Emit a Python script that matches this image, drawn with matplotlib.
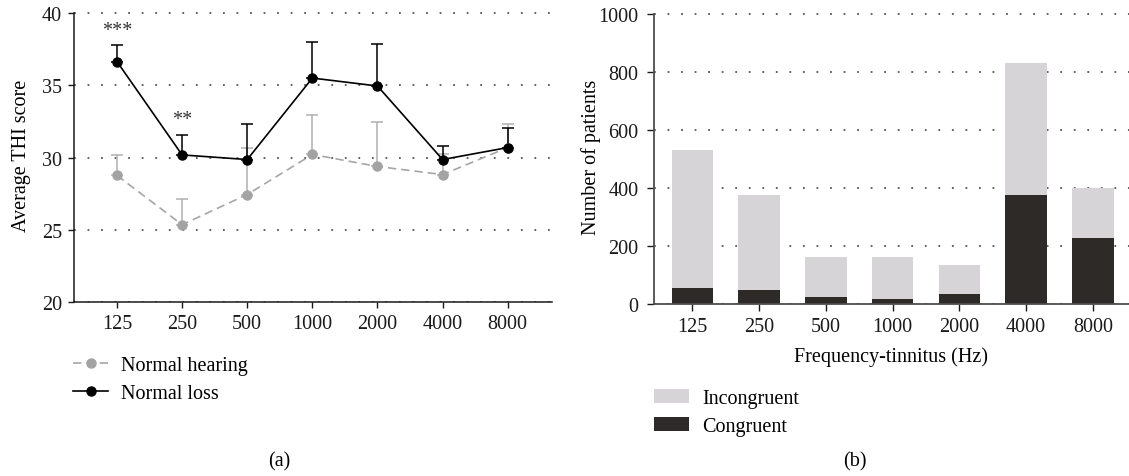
import numpy as np
import matplotlib
matplotlib.use("Agg")
import matplotlib.pyplot as plt

plt.rcParams["font.family"] = ["Liberation Serif", "DejaVu Serif"]

## データ
freqs = ["125", "250", "500", "1000", "2000", "4000", "8000"]

# (a) 平均THIスコア (上側のみのエラーバー)
hearing_mean = [28.76, 25.35, 27.44, 30.21, 29.38, 28.82, 30.69]
hearing_err = [1.40, 1.77, 3.21, 2.74, 3.11, 1.43, 1.61]
loss_mean = [36.64, 30.18, 29.86, 35.50, 34.95, 29.86, 30.69]
loss_err = [1.15, 1.41, 2.44, 2.50, 2.93, 0.97, 1.36]
stars = ["***", "**"]
star_y = [38.8, 32.65]

# (b) 患者数
congruent = [55, 48, 24, 17, 34, 375, 227]
incongruent = [475, 327, 138, 145, 100, 455, 173]

W, H = 1129, 477
fig = plt.figure(figsize=(W / 100, H / 100), dpi=100)

FS = 14.5
DOT = (0, (1, 6.5))
x = np.arange(len(freqs))

# ---- (a)
ax1 = fig.add_axes([74 / W, 1 - 303 / H, (552 - 74) / W, (303 - 9.7) / H])
# エラーバー（上側のみ）
ax1.errorbar(x, hearing_mean, yerr=[np.zeros(len(x)), hearing_err], fmt="none",
             ecolor="#b0b0b0", capsize=4, elinewidth=1.1, capthick=1.1, zorder=2)
ax1.errorbar(x, loss_mean, yerr=[np.zeros(len(x)), loss_err], fmt="none",
             ecolor="black", capsize=4, elinewidth=1.1, capthick=1.1, zorder=3)
# 折れ線
ax1.plot(x, hearing_mean, color="#a6a6a6", linestyle=(0, (5, 3)), lw=1.2,
         marker="o", ms=6.5, mfc="#a3a3a3", mec="#a3a3a3", zorder=3,
         label="Normal hearing")
ax1.plot(x, loss_mean, color="black", lw=1.2, marker="o", ms=6.5,
         mfc="black", mec="black", zorder=4, label="Normal loss")
for i, s in enumerate(stars):
    ax1.text(x[i], star_y[i], s, ha="center", va="center", fontsize=FS, color="#333333")

ax1.set_xlim(-0.66, 6.68)
ax1.set_ylim(20, 40.3)
ax1.set_yticks([20, 25, 30, 35, 40])
ax1.set_xticks(x)
ax1.set_xticklabels(freqs)
ax1.spines["left"].set_bounds(20, 40)
for s in ["top", "right"]:
    ax1.spines[s].set_visible(False)
for s in ["left", "bottom"]:
    ax1.spines[s].set_color("#1a1a1a")
    ax1.spines[s].set_linewidth(1.1)
ax1.set_axisbelow(True)
ax1.yaxis.grid(True, linestyle=DOT, color="#555555", lw=1.3)
ax1.tick_params(labelsize=FS, length=4.5, width=1.0, pad=4, colors="#1a1a1a")
ax1.set_ylabel("Average THI score", fontsize=FS, labelpad=8)
ax1.legend(loc="upper left", bbox_to_anchor=(73 / W, 1 - 357 / H),
           bbox_transform=fig.transFigure, frameon=False, fontsize=FS,
           handlelength=1.75, handletextpad=0.65, labelspacing=0.45,
           borderpad=0, borderaxespad=0)

# ---- (b)
ax2 = fig.add_axes([653.6 / W, 1 - 305 / H, (W - 653.6) / W, (305 - 10.3) / H])
ax2.bar(x, congruent, width=0.62, color="#2e2a28", label="Congruent", zorder=2)
ax2.bar(x, incongruent, width=0.62, bottom=congruent, color="#d6d4d7",
        label="Incongruent", zorder=2)
ax2.set_xlim(-0.58, 6.54)
ax2.set_ylim(0, 1015)
ax2.set_yticks([0, 200, 400, 600, 800, 1000])
ax2.set_xticks(x)
ax2.set_xticklabels(freqs)
ax2.spines["left"].set_bounds(0, 1000)
for s in ["top", "right"]:
    ax2.spines[s].set_visible(False)
for s in ["left", "bottom"]:
    ax2.spines[s].set_color("#4d4d4d")
    ax2.spines[s].set_linewidth(1.3)
ax2.set_axisbelow(True)
ax2.yaxis.grid(True, linestyle=DOT, color="#555555", lw=1.3)
ax2.tick_params(labelsize=FS, length=5, width=1.0, pad=4, colors="#1a1a1a")
ax2.tick_params(axis="y", pad=6)
ax2.set_ylabel("Number of patients", fontsize=FS, labelpad=-2)
ax2.set_xlabel("Frequency-tinnitus (Hz)", fontsize=FS, labelpad=8)
handles, labels = ax2.get_legend_handles_labels()
ax2.legend(handles[::-1], labels[::-1], loc="upper left",
           bbox_to_anchor=(653.6 / W, 1 - 390 / H), bbox_transform=fig.transFigure,
           frameon=False, fontsize=FS, handlelength=1.75, handleheight=0.65,
           handletextpad=0.65, labelspacing=0.45, borderpad=0, borderaxespad=0)

fig.text(279 / W, 1 - 462 / H, "(a)", ha="center", va="center", fontsize=FS)
fig.text(855 / W, 1 - 462 / H, "(b)", ha="center", va="center", fontsize=FS)

fig.savefig("out.png", dpi=100)
